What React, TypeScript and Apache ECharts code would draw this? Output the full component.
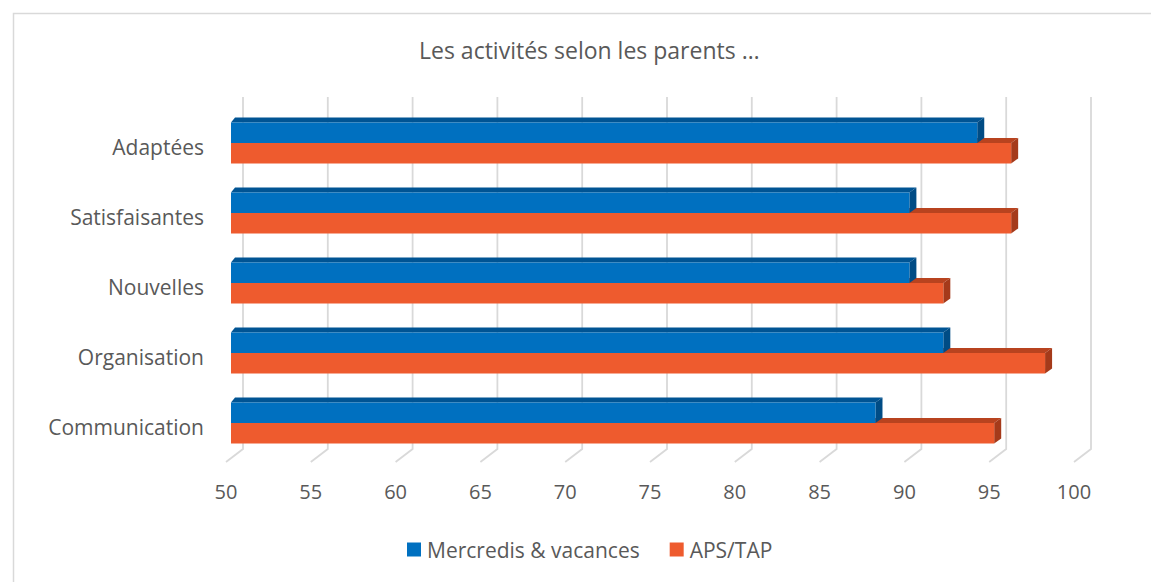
import React, { useEffect, useRef } from "react";
import * as echarts from "echarts";

const categories = ["Adaptées", "Satisfaisantes", "Nouvelles", "Organisation", "Communication"];
const mercredis = [94, 90, 90, 92, 88];
const apsTap = [96, 96, 92, 98, 95];
const ticks = [50, 55, 60, 65, 70, 75, 80, 85, 90, 95, 100];

const FONT = "'Open Sans', sans-serif";
const TEXT = "#595959";

function barRenderer(front: string, top: string, side: string, upper: boolean) {
  return (params: any, api: any) => {
    const v = api.value(0);
    const cat = api.value(1);
    const start = api.coord([50, cat]);
    const end = api.coord([v, cat]);
    const band = api.size([0, 1])[1];
    const h = band * 0.293;
    const cy = start[1] - 4;
    const x0 = start[0] + 5;
    const x1 = end[0] + 5;
    const y0 = upper ? cy - h : cy;
    const y1 = y0 + h;
    const dx = 7;
    const dy = 5;
    return {
      type: "group",
      children: [
        {
          type: "polygon",
          shape: { points: [[x0, y0], [x0 + 4, y0 - dy], [x1 + dx, y0 - dy], [x1, y0]] },
          style: { fill: top },
        },
        {
          type: "polygon",
          shape: { points: [[x1, y0], [x1 + dx, y0 - dy], [x1 + dx, y1 - dy], [x1, y1]] },
          style: { fill: side },
        },
        {
          type: "rect",
          shape: { x: x0, y: y0, width: x1 - x0, height: y1 - y0 },
          style: { fill: front },
        },
      ],
    };
  };
}

export default function App() {
  const ref = useRef<HTMLDivElement>(null);
  useEffect(() => {
    if (!ref.current) return;
    const chart = echarts.init(ref.current, null, { renderer: "svg" });
    chart.setOption({
      animation: false,
      backgroundColor: "#ffffff",
      textStyle: { fontFamily: FONT },
      title: {
        text: "Les activités selon les parents …",
        left: 414,
        top: 33,
        textStyle: { fontFamily: FONT, fontSize: 23, fontWeight: "normal", color: TEXT },
      },
      graphic: [
        {
          type: "rect",
          left: 11,
          top: 11,
          shape: { x: 0, y: 0, width: 1200, height: 620 },
          style: { fill: "none", stroke: "#d9d9d9", lineWidth: 1.5 },
          silent: true,
          z: -10,
        },
      ],
      legend: {
        data: ["Mercredis & vacances", "APS/TAP"],
        left: 402,
        top: 534,
        icon: "rect",
        itemWidth: 14,
        itemHeight: 14,
        itemGap: 30,
        textStyle: { fontFamily: FONT, fontSize: 21, color: TEXT, padding: [0, 0, 0, 1] },
      },
      grid: { left: 226, top: 112, width: 848, height: 350, containLabel: false },
      xAxis: {
        type: "value",
        min: 50,
        max: 100,
        interval: 5,
        axisLine: { show: false },
        axisTick: { show: false },
        splitLine: { show: false },
        axisLabel: { fontFamily: FONT, fontSize: 20, color: TEXT, margin: 19 },
      },
      yAxis: {
        type: "category",
        inverse: true,
        data: categories,
        axisLine: { show: false },
        axisTick: { show: false },
        splitLine: { show: false },
        axisLabel: { fontFamily: FONT, fontSize: 21, color: TEXT, margin: 22 },
      },
      series: [
        {
          type: "custom",
          name: "grid",
          silent: true,
          z: 1,
          data: ticks.map((t) => [t, 0]),
          encode: { x: 0, y: 1 },
          renderItem: (params: any, api: any) => {
            const x = api.coord([api.value(0), 0])[0];
            const cs = params.coordSys;
            const top = cs.y;
            const bottom = cs.y + cs.height;
            return {
              type: "polyline",
              shape: { points: [[x + 17, top - 15], [x + 17, bottom - 13], [x, bottom]] },
              style: { stroke: "#d9d9d9", lineWidth: 1.8, fill: "none" },
            };
          },
        },
        {
          type: "custom",
          name: "APS/TAP",
          z: 2,
          itemStyle: { color: "#EE5B2E" },
          data: apsTap.map((v, i) => [v, i]),
          encode: { x: 0, y: 1 },
          renderItem: barRenderer("#EE5B2E", "#B8431F", "#A53A1A", false),
        },
        {
          type: "custom",
          name: "Mercredis & vacances",
          z: 3,
          itemStyle: { color: "#0070C0" },
          data: mercredis.map((v, i) => [v, i]),
          encode: { x: 0, y: 1 },
          renderItem: barRenderer("#0070C0", "#005494", "#004C85", true),
        },
      ],
    });
    return () => chart.dispose();
  }, []);
  return (
    <div
      ref={ref}
      style={{ position: "fixed", left: 0, top: 0, width: 1151, height: 582 }}
    />
  );
}
